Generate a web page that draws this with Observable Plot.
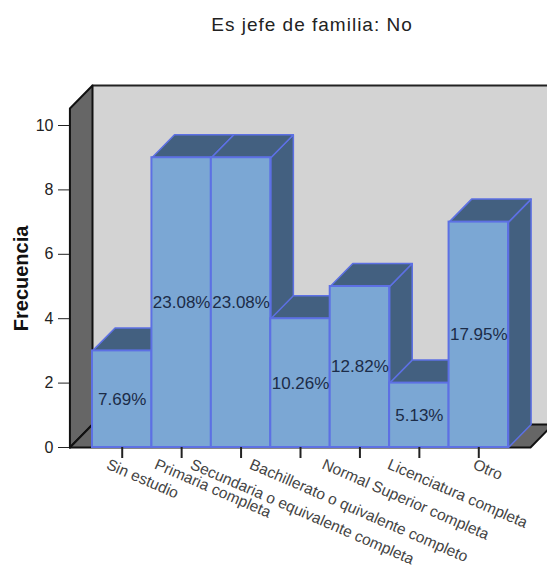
<!DOCTYPE html>
<html>
<head>
<meta charset="utf-8">
<script src="https://cdn.jsdelivr.net/npm/d3@7"></script>
<script src="https://cdn.jsdelivr.net/npm/@observablehq/plot@0.6"></script>
<style>
html,body{margin:0;padding:0;background:#fff;overflow:hidden}
#title{box-sizing:border-box;width:547px;height:50px;padding-left:77px;text-align:center;font:19px/50px "Liberation Sans",Arial,sans-serif;letter-spacing:1px;color:#222}
svg{display:block}
</style>
</head>
<body>
<div id="title">Es jefe de familia: No</div>
<div id="chart"></div>
<script>
const categories = ["Sin estudio","Primaria completa","Secundaria o equivalente completa","Bachillerato o quivalente completo","Normal Superior completa","Licenciatura completa","Otro"];
const frequencies = [3,9,9,4,5,2,7];
const percents = ["7.69%","23.08%","23.08%","10.26%","12.82%","5.13%","17.95%"];
const yTicks = [0,2,4,6,8,10];

// Layout of the pseudo-3D box, in scale units
const depthX = 0.38, depthY = 0.714;
const boxTop = 10.53, floorRight = 7.37, wallRight = 7.75;
const labelBack = [0.25,0.44,0.84,0.84,0.62,0.52,0.08];

const poly = pts => pts.map(([x,y]) => ({x,y}));
const closed = pts => poly([...pts, pts[0]]);

const lineMark = (pts, fill, stroke, strokeWidth) =>
  Plot.line(closed(pts), {x:"x", y:"y", fill, stroke, strokeWidth, strokeLinejoin:"round"});

const sideColor = "#436080", frontColor = "#7ba7d4", edge = "#5d70e4";

const barMarks = frequencies.flatMap((v,i) => {
  const a = i, b = i+1;
  return [
    lineMark([[b,0],[b+depthX,depthY],[b+depthX,v+depthY],[b,v]], sideColor, edge, 1.5),
    lineMark([[a,v],[a+depthX,v+depthY],[b+depthX,v+depthY],[b,v]], sideColor, edge, 1.5),
    Plot.rect([v], {x1:a, x2:b, y1:0, y2:d=>d, fill:frontColor, stroke:edge, strokeWidth:2})
  ];
});

const plot = Plot.plot({
  width:547, height:520,
  marginLeft:69, marginRight:39, marginTop:35, marginBottom:123,
  style:{background:"transparent", fontFamily:"'Liberation Sans',Arial,sans-serif"},
  x:{domain:[0,7], range:[92,508], axis:null},
  y:{domain:[0,10], range:[397,75], axis:null},
  marks:[
    // back wall
    lineMark([[0,depthY],[0,boxTop+depthY-0],[wallRight+1,boxTop+depthY],[wallRight+1,depthY]], "#d3d3d3", "none", 0),
    Plot.line(poly([[0,boxTop+depthY],[wallRight+1,boxTop+depthY]]), {x:"x",y:"y",stroke:"#222",strokeWidth:2}),
    // left wall
    lineMark([[-depthX,0],[-depthX,boxTop],[0,boxTop+depthY],[0,depthY]], "#666666", "#111", 2),
    // floor
    lineMark([[0,depthY],[-depthX,0],[floorRight,0],[wallRight,depthY]], "#666666", "none", 0),
    Plot.line(poly([[-depthX,0],[0,depthY],[wallRight+1,depthY]]), {x:"x",y:"y",stroke:"#111",strokeWidth:2}),
    Plot.line(poly([[-depthX,0],[floorRight,0],[wallRight,depthY]]), {x:"x",y:"y",stroke:"#111",strokeWidth:2}),
    // bars, left to right
    ...barMarks,
    // axes
    Plot.axisY({ticks:yTicks, anchor:"left", tickSize:11, tickPadding:5, fontSize:16, label:null, stroke:"#222", color:"#222"}),
    Plot.axisX({ticks:frequencies.map((_,i)=>i+0.5), anchor:"bottom", tickSize:11, tickFormat:()=>"", label:null, stroke:"#222", strokeWidth:2}),
    // percent labels
    Plot.text(percents, {
      x:(_,i)=>i+0.5, y:(_,i)=>frequencies[i]/2, text:d=>d,
      fontSize:17, fill:"#1c2c48"
    }),
    // category labels
    Plot.text(categories, {
      x:(_,i)=>i+0.5-labelBack[i], y:-0.5, text:d=>d,
      rotate:23.5, textAnchor:"start", lineAnchor:"middle",
      fontSize:15.5, fill:"#444"
    }),
    // y title
    Plot.text(["Frecuencia"], {
      frameAnchor:"left", dx:-48, y:()=>5.25, text:d=>d,
      rotate:-90, textAnchor:"middle", fontSize:20, fontWeight:"bold", fill:"#111"
    })
  ]
});
document.getElementById("chart").append(plot);
</script>
</body>
</html>
